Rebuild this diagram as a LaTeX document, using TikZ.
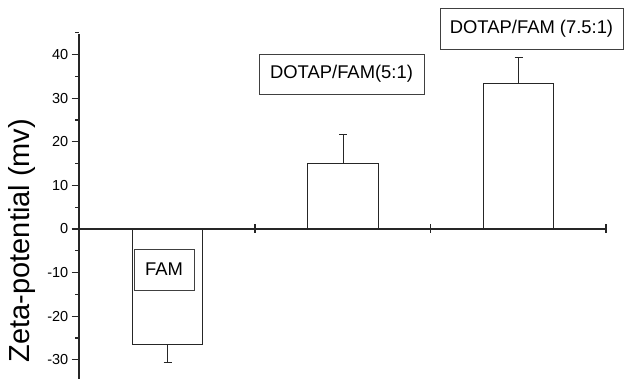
\documentclass[tikz,border=0pt]{standalone}
\usepackage{fontspec}
\setmainfont{Liberation Sans}
\begin{document}
\begin{tikzpicture}[x=1pt,y=-1pt,
  axis/.style={line width=1.2pt,black!85},
  barbox/.style={draw=black!85,line width=1pt,fill=white},
  errbar/.style={draw=black!85,line width=1pt},
  legendbox/.style={draw=black!75,line width=0.9pt,inner sep=0pt,font=\fontsize{18.4}{20}\selectfont},
  ticklab/.style={anchor=east,inner sep=0pt,font=\fontsize{14.5}{16}\selectfont}]
\useasboundingbox (0,0) rectangle (624,379);
% bars
\draw[barbox] (132.3,229) rectangle (202.3,345);
\draw[barbox] (307.7,229) rectangle (378.3,163.3);
\draw[barbox] (483.3,229) rectangle (553.7,83.3);
% error bars
\draw[errbar] (167.5,345) -- (167.5,362.7) (163.5,362.7) -- (171.5,362.7);
\draw[errbar] (343,163.3) -- (343,134.3) (339,134.3) -- (347,134.3);
\draw[errbar] (518.5,83.3) -- (518.5,58) (514.5,58) -- (522.5,58);
% axes
\coordinate (ytop) at (79,34);
\coordinate (ybot) at (79,379);
\coordinate (xl) at (79,229);
\coordinate (xr) at (606.5,229);
\draw[axis] (ytop) -- (ybot);
\draw[axis] (xl) -- (xr);
\foreach \v in {-30,-20,...,40}{
  \pgfmathsetmacro{\yy}{229-4.36*\v}
  \draw[axis] (71.5,\yy) -- (79,\yy);
  \node[ticklab] (t\v) at (68.5,\yy) {\v};
}
\foreach \v in {-25,-15,-5,5,15,25,35,45}{
  \pgfmathsetmacro{\yy}{229-4.36*\v}
  \draw[axis] (75,\yy) -- (79,\yy);
}
\foreach \xx in {255,430.5,606}{
  \draw[axis] (\xx,224.5) -- (\xx,233.5);
}
% axis title
\node[rotate=90,inner sep=0pt,font=\fontsize{29}{32}\selectfont] (ylab) at (22,240.5) {Zeta-potential (mv)};
% labels
\node[legendbox,minimum width=60pt,minimum height=41pt] (fam) at (164,269.5) {FAM};
\node[legendbox,minimum width=165pt,minimum height=40pt] (d5) at (341.5,74) {DOTAP/FAM(5:1)};
\node[legendbox,minimum width=183pt,minimum height=41pt] (d75) at (531.5,28.5) {DOTAP/FAM (7.5:1)};
\end{tikzpicture}
\end{document}
